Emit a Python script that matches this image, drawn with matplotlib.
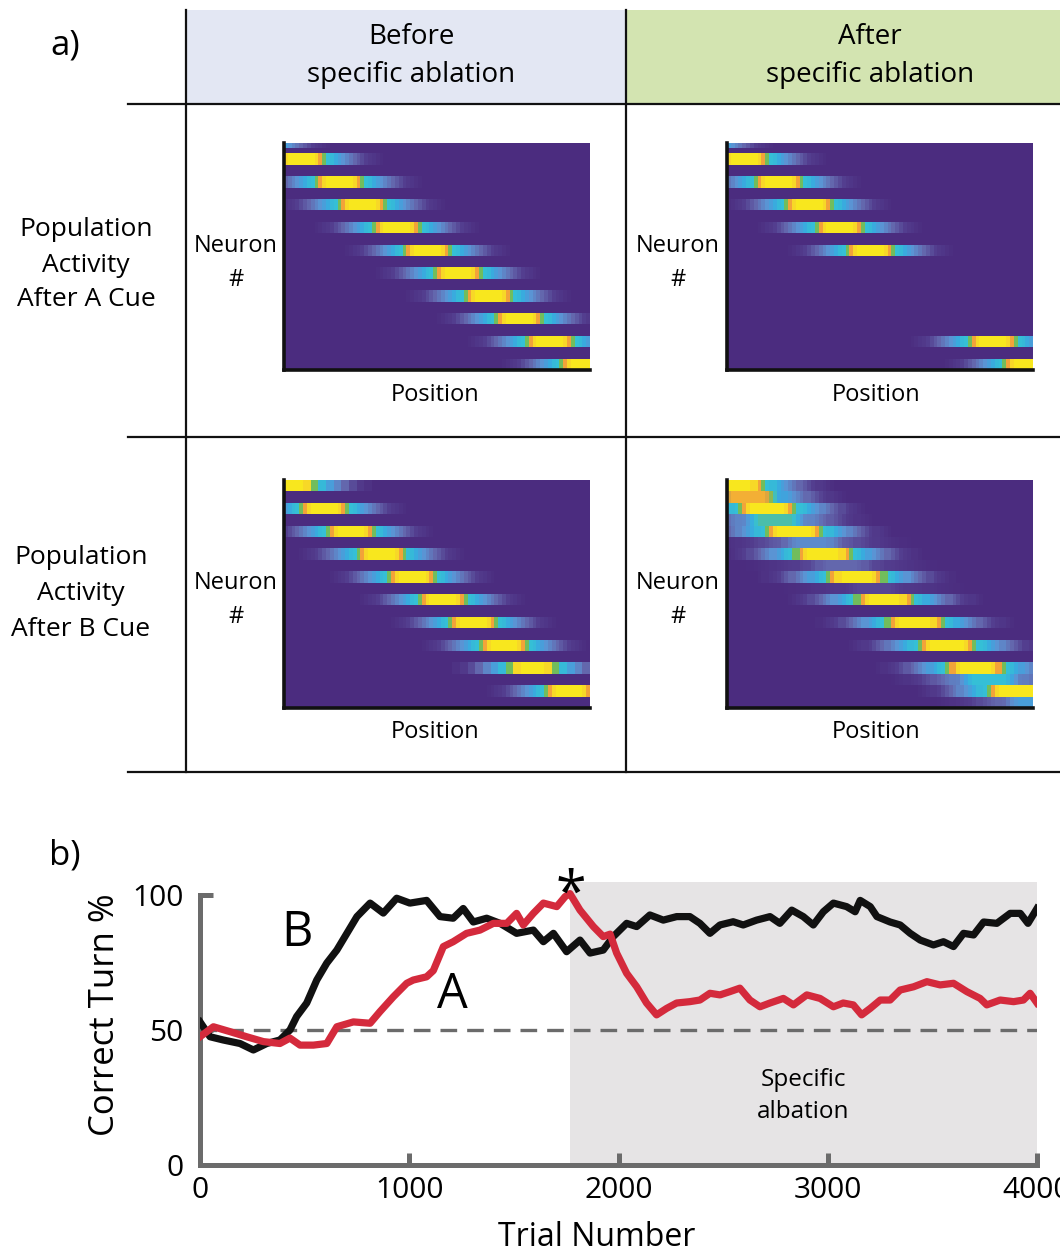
import numpy as np
import matplotlib.pyplot as plt
from matplotlib.colors import LinearSegmentedColormap

plt.rcParams['font.family'] = ['Open Sans', 'DejaVu Sans']

W, H = 1060, 1253

# ---------------- panel a data ----------------
# each band: first half-row, peak column, peak value (40 half-rows x 80 columns)
a_pre_rows = [-1, 2, 6, 10, 14, 18, 22, 26, 30, 34, 38]
a_pre_peaks = [-10, 4.3, 13.6, 20.4, 28.9, 36.8, 44.7, 52.8, 61.1, 69.1, 77.6]
a_pre_amps = [1, 1, 1, 1, 1, 1, 1, 1, 1, 1, 1]

a_post_rows = [-1, 2, 6, 10, 14, 18, 34, 38]
a_post_peaks = [-10, 3.6, 13.2, 20.8, 29.0, 36.8, 69.4, 77.7]
a_post_amps = [1, 1, 1, 1, 1, 1, 1, 1]

b_pre_rows = [0, 4, 8, 12, 16, 20, 24, 28, 32, 36]
b_pre_peaks = [1.5, 9.9, 17.3, 25.0, 32.9, 40.8, 48.7, 56.6, 64.5, 73.7]
b_pre_amps = [1, 1, 1, 1, 1, 1, 1, 1, 1, 1]

b_post_rows = [0, 2, 4, 6, 8, 10, 12, 14, 16, 18, 20, 24, 28, 32, 34, 36, 38]
b_post_peaks = [1.8, 4.9, 10.2, 12.0, 17.0, 21.6, 24.6, 29.5, 33.4, 38.0, 40.8,
                48.7, 57.1, 64.5, 68.0, 75.0, 80.0]
b_post_amps = [1, 0.88, 1, 0.66, 1, 0.42, 1, 0.3, 1, 0.18, 1,
               1, 1, 1, 0.62, 1, 0.5]

# activity profile away from the peak, one value per column
bump = [1, 1, 1, 1, 0.95, 0.86, 0.73, 0.62, 0.6, 0.56, 0.5, 0.45, 0.4, 0.35,
        0.3, 0.25, 0.2, 0.16, 0.12, 0.09, 0.06, 0.03]

# ---------------- panel b data ----------------
trials_b = [0, 48, 111, 191, 255, 319, 382, 430, 462, 510, 558, 606, 654, 702,
            750, 813, 876, 940, 1003, 1083, 1147, 1210, 1258, 1306, 1370, 1434,
            1513, 1593, 1641, 1689, 1752, 1816, 1864, 1927, 1975, 2039, 2087,
            2150, 2214, 2278, 2341, 2389, 2437, 2485, 2548, 2596, 2660, 2724,
            2771, 2828, 2883, 2931, 2979, 3027, 3090, 3131, 3155, 3203, 3235,
            3298, 3346, 3394, 3442, 3505, 3553, 3601, 3649, 3697, 3745, 3808,
            3872, 3920, 3957, 4000]
pct_b = [53, 47.5, 46.3, 45, 42.6, 45, 46.3, 50, 55, 60, 68.5, 74.8, 79.6, 85.8,
         92, 97, 93.3, 98.8, 97, 98, 92, 91.4, 95, 90, 91.4, 89.5,
         85.8, 87, 82.7, 85.8, 79, 83.3, 78.5, 79.6, 84.6, 89.5, 88.3,
         92.6, 90.7, 92, 92, 89.5, 85.8, 88.9, 90.1, 88.9, 90.7, 92,
         89.5, 94.4, 92, 88.9, 93.8, 97, 95.7, 93.8, 98, 95.7, 92,
         90, 88.9, 85.8, 83.3, 81.5, 82.7, 80.9, 85.8, 85.2, 90, 89.5,
         93.2, 93.2, 89.5, 95]

trials_a = [0, 64, 143, 223, 303, 382, 430, 478, 542, 606, 654, 733, 813, 860,
            924, 988, 1019, 1083, 1115, 1163, 1210, 1274, 1338, 1402, 1466,
            1513, 1545, 1593, 1641, 1705, 1745, 1768, 1816, 1880, 1927, 1960,
            1991, 2039, 2087, 2134, 2182, 2230, 2278, 2341, 2389, 2437, 2485,
            2532, 2580, 2628, 2676, 2724, 2788, 2836, 2900, 2963, 3027, 3074,
            3122, 3162, 3203, 3251, 3298, 3346, 3410, 3474, 3537, 3601, 3665,
            3728, 3760, 3824, 3888, 3935, 3967, 4000]
pct_a = [47.5, 51.2, 49.4, 47.5, 45.7, 45, 47, 44.4, 44.4, 45, 51.2, 53, 52.5, 56.8,
         62.3, 67.3, 68.5, 69.7, 72, 80.9, 82.7, 85.8, 87, 89.5, 89.5,
         93.2, 88.9, 93.2, 97, 95.7, 99.4, 100.5, 94.4, 88.3, 84.6, 85.5,
         78.5, 71, 66, 60, 55.6, 58, 60, 60.5, 61.1, 63.6, 63,
         64.2, 65.5, 61.1, 58.6, 60, 61.7, 59.3, 63, 61.7, 58.6, 60,
         59.3, 55.6, 58, 61.1, 61.1, 64.8, 66, 67.9, 66.7, 67.3, 64.2,
         61.7, 59.3, 61.1, 60.5, 61.1, 63.6, 60]

x_ticks = [0, 1000, 2000, 3000, 4000]
y_ticks = [0, 50, 100]
ablation_start = 1770

# parula-like colour map
cmap = LinearSegmentedColormap.from_list('parula_like', [
    (0.0, '#4b2c7f'), (0.15, '#533d8e'), (0.3, '#6468ae'), (0.45, '#5b94d4'),
    (0.55, '#3aa8e0'), (0.62, '#35c0d6'), (0.73, '#72bd5c'), (0.86, '#f2a23a'),
    (0.94, '#f7d42a'), (1.0, '#f8e71e')])


def band_image(rows, peaks, amps, spread=1.0):
    img = np.zeros((40, 80))
    cols = np.arange(80)
    for r, p, a in zip(rows, peaks, amps):
        d = np.round(np.abs(cols - p) / spread).astype(int)
        prof = np.array([bump[i] if i < len(bump) else 0 for i in d])
        for rr in (r, r + 1):
            if 0 <= rr < 40:
                img[rr] = np.maximum(img[rr], a * prof)
    return img


def px_axes(x0, y0, w, h):
    return fig.add_axes([x0 / W, 1 - (y0 + h) / H, w / W, h / H])


fig = plt.figure(figsize=(W / 100, H / 100), dpi=100)

# heat maps
panels = [
    (284, 143, 306, 227, band_image(a_pre_rows, a_pre_peaks, a_pre_amps)),
    (727, 143, 306, 227, band_image(a_post_rows, a_post_peaks, a_post_amps)),
    (284, 480, 306, 228, band_image(b_pre_rows, b_pre_peaks, b_pre_amps)),
    (727, 480, 306, 228, band_image(b_post_rows, b_post_peaks, b_post_amps, 1.2)),
]
for x0, y0, w, h, img in panels:
    ax = px_axes(x0, y0, w, h)
    ax.imshow(img, cmap=cmap, vmin=0, vmax=1, aspect='auto',
              interpolation='nearest', extent=(0, 80, 40, 0))
    ax.set_xticks([])
    ax.set_yticks([])
    for s in ['top', 'right']:
        ax.spines[s].set_visible(False)
    for s in ['left', 'bottom']:
        ax.spines[s].set_linewidth(2.6)
        ax.spines[s].set_color('#111111')

# panel b
gray = '#6b6b6b'
axb = px_axes(200, 881.5, 837, 283.5)
axb.set_facecolor('none')
axb.axvspan(ablation_start, 4000, color='#e6e4e5', lw=0, zorder=0)
axb.axhline(50, color=gray, lw=2.4, dashes=(5, 3), zorder=1)
axb.plot(trials_b, pct_b, color='#111111', lw=5.2, zorder=3)
axb.plot(trials_a, pct_a, color='#d42a3c', lw=5.2, zorder=4)
axb.set_xlim(0, 4000)
axb.set_ylim(0, 105)
axb.set_xticks(x_ticks)
axb.set_yticks(y_ticks)
for s in ['top', 'right']:
    axb.spines[s].set_visible(False)
axb.spines['left'].set_bounds(0, 100)
for s in ['left', 'bottom']:
    axb.spines[s].set_linewidth(3.6)
    axb.spines[s].set_color(gray)
axb.tick_params(direction='in', length=9, width=3.6, color=gray, labelsize=21.5)
axb.tick_params(axis='x', pad=8)
axb.tick_params(axis='y', pad=12)

# overlay in pixel coordinates
ov = fig.add_axes([0, 0, 1, 1], facecolor='none')
ov.set_xlim(0, W)
ov.set_ylim(H, 0)
ov.axis('off')

ov.add_patch(plt.Rectangle((187, 10), 439, 94, color='#e3e7f3', lw=0, zorder=0))
ov.add_patch(plt.Rectangle((627, 10), 433, 94, color='#d3e4b1', lw=0, zorder=0))
for x in [186, 626]:
    ov.plot([x, x], [10, 772], color='#111111', lw=1.6)
for y in [104, 437, 772]:
    ov.plot([128, 1060], [y, y], color='#111111', lw=1.6)


def txt(x, y, s, size, **kw):
    ov.text(x, y, s, fontsize=size, ha='center', va='center', **kw)


txt(65, 45, 'a)', 25)
txt(65, 855, 'b)', 25)
txt(411, 37, 'Before', 20)
txt(411, 75, 'specific ablation', 20)
txt(870, 37, 'After', 20)
txt(870, 75, 'specific ablation', 20)

for y, s in zip([229, 265, 300], ['Population', 'Activity', 'After A Cue']):
    txt(86, y, s, 19)
for y, s in zip([557, 593, 629], ['Population', 'Activity', 'After B Cue']):
    txt(81, y, s, 19)

for x in [236, 678]:
    for y in [246, 583]:
        txt(x, y, 'Neuron', 17)
        txt(x, y + 34, '#', 17)
for x in [435, 876]:
    for y in [395, 732]:
        txt(x, y, 'Position', 17)

txt(297, 933, 'B', 35)
txt(452, 995, 'A', 35)
txt(571, 896, '*', 40)
txt(803, 1080, 'Specific', 17.5)
txt(803, 1112, 'albation', 17.5)
txt(105, 1015, 'Correct Turn %', 25, rotation=90)
txt(597, 1237, 'Trial Number', 23)

fig.savefig('out.png', dpi=100)
